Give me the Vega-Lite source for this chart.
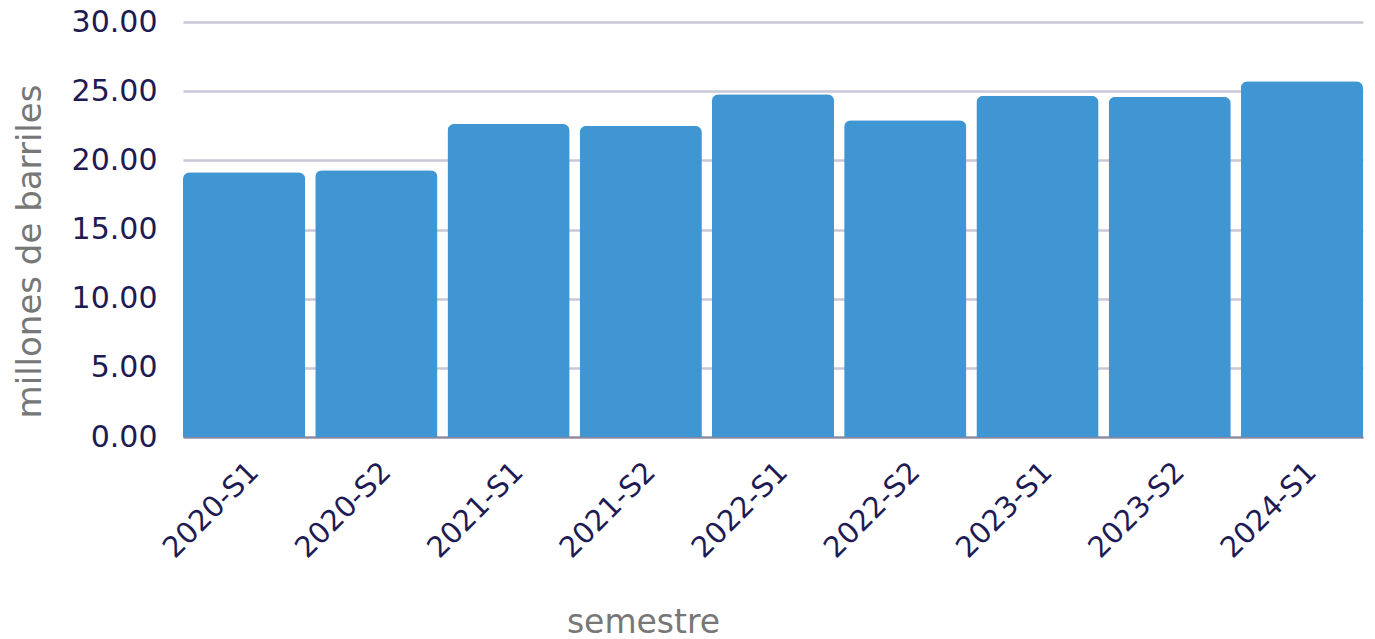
{
  "$schema": "https://vega.github.io/schema/vega-lite/v6.json",
  "width": 1180,
  "height": 415,
  "autosize": {"type": "none"},
  "padding": {"left": 183, "top": 22, "right": 12, "bottom": 202},
  "background": "white",
  "config": {"view": {"stroke": null}, "font": "DejaVu Sans"},
  "data": {"values": [
    {"semestre": "2020-S1", "v": 19.14},
    {"semestre": "2020-S2", "v": 19.28},
    {"semestre": "2021-S1", "v": 22.63},
    {"semestre": "2021-S2", "v": 22.5},
    {"semestre": "2022-S1", "v": 24.78},
    {"semestre": "2022-S2", "v": 22.9},
    {"semestre": "2023-S1", "v": 24.66},
    {"semestre": "2023-S2", "v": 24.6},
    {"semestre": "2024-S1", "v": 25.72}
  ]},
  "mark": {"type": "bar", "color": "#3f96d3", "cornerRadiusTopLeft": 7, "cornerRadiusTopRight": 7},
  "encoding": {
    "x": {"field": "semestre", "type": "nominal", "sort": null,
      "scale": {"paddingInner": 0.076, "paddingOuter": 0},
      "axis": {"title": "semestre", "labelAngle": -45, "labelFontSize": 29, "labelColor": "#1e1b54",
        "ticks": false, "labelPadding": 20, "domainColor": "#8a86a0", "domainWidth": 2,
        "titleFontSize": 33, "titleFontWeight": "normal", "titleColor": "#777777",
        "titleX": 460, "titleY": 185, "titleAnchor": null, "titleAlign": "center", "titleBaseline": "middle"}},
    "y": {"field": "v", "type": "quantitative",
      "scale": {"domain": [0, 30]},
      "axis": {"title": "millones de barriles", "values": [0, 5, 10, 15, 20, 25, 30], "format": ".2f",
        "labelFontSize": 30, "labelColor": "#1e1b54", "ticks": false, "domain": false, "labelPadding": 26,
        "gridColor": "#c9c7d8", "gridWidth": 2.5,
        "titleFontSize": 34, "titleFontWeight": "normal", "titleColor": "#777777",
        "titleX": -153, "titleY": 229, "titleAlign": "center", "titleBaseline": "middle", "titleAngle": -90}}
  }
}
